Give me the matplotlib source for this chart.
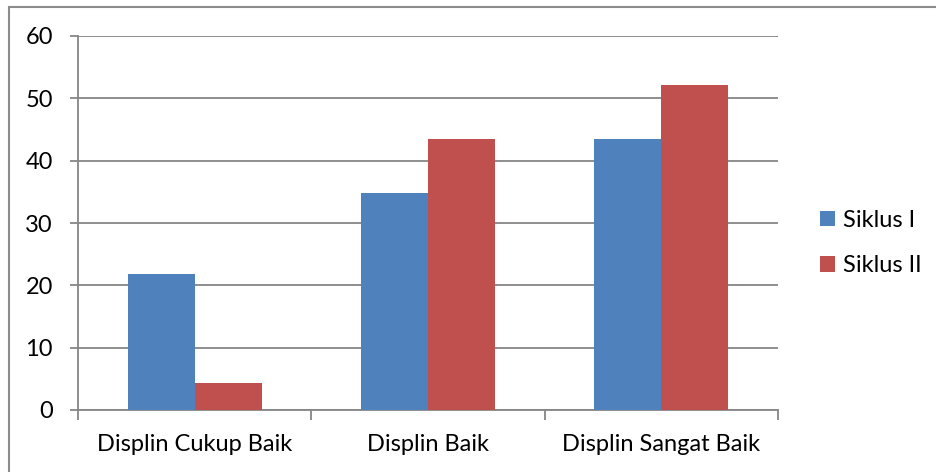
import matplotlib
matplotlib.use("Agg")
import matplotlib.pyplot as plt
import numpy as np
from matplotlib.patches import Rectangle

categories = ["Displin Cukup Baik", "Displin Baik", "Displin Sangat Baik"]
series_names = ["Siklus I", "Siklus II"]
siklus_1 = [21.74, 34.78, 43.48]
siklus_2 = [4.35, 43.48, 52.17]
y_ticks = [0, 10, 20, 30, 40, 50, 60]

blue = "#4F81BD"
red = "#C0504D"
grid_col = "#868686"

plt.rcParams["font.family"] = ["Lato", "DejaVu Sans"]

W, H = 936, 472
fig = plt.figure(figsize=(W / 100, H / 100), dpi=100)
# axes box in pixels: left 78, right 778, top 36, bottom 410
ax = fig.add_axes([78 / W, 1 - 410 / H, 700 / W, 374 / H])

x = np.arange(len(categories))
bw = 0.287
ax.bar(x - bw / 2, siklus_1, bw, color=blue, label=series_names[0], zorder=3)
ax.bar(x + bw / 2, siklus_2, bw, color=red, label=series_names[1], zorder=3)

ax.set_xlim(-0.5, len(categories) - 0.5)
ax.set_ylim(0, 60)
ax.set_yticks(y_ticks)
ax.set_xticks(x)
ax.set_xticklabels(categories)
ax.yaxis.grid(True, color=grid_col, linewidth=1.3, zorder=0)

for s in ["top", "right"]:
    ax.spines[s].set_visible(False)
ax.spines["left"].set_color(grid_col)
ax.spines["bottom"].set_color(grid_col)
ax.spines["left"].set_linewidth(1.3)
ax.spines["bottom"].set_linewidth(1.3)

# category boundary ticks on the x axis
ax.set_xticks(np.arange(len(categories) + 1) - 0.5, minor=True)
ax.tick_params(axis="x", which="major", length=0, pad=17, labelsize=17)
ax.tick_params(axis="x", which="minor", length=7, color=grid_col, width=1.3, direction="out")
ax.tick_params(axis="y", length=6, color=grid_col, width=1.3, pad=12, labelsize=17)

ax.legend(loc="center left", bbox_to_anchor=(820 / W, 1 - 243 / H),
          bbox_transform=fig.transFigure, frameon=False, fontsize=17,
          borderpad=0, borderaxespad=0,
          handlelength=0.64, handleheight=0.64, handletextpad=0.35, labelspacing=1.05)

# outer frame of the chart
fig.patches.append(Rectangle((9 / W, -0.1), 1.2, 1 - 7 / H + 0.1, transform=fig.transFigure,
                             fill=False, edgecolor="#8C8C8C", linewidth=1.5))

fig.savefig("out.png", dpi=100)
